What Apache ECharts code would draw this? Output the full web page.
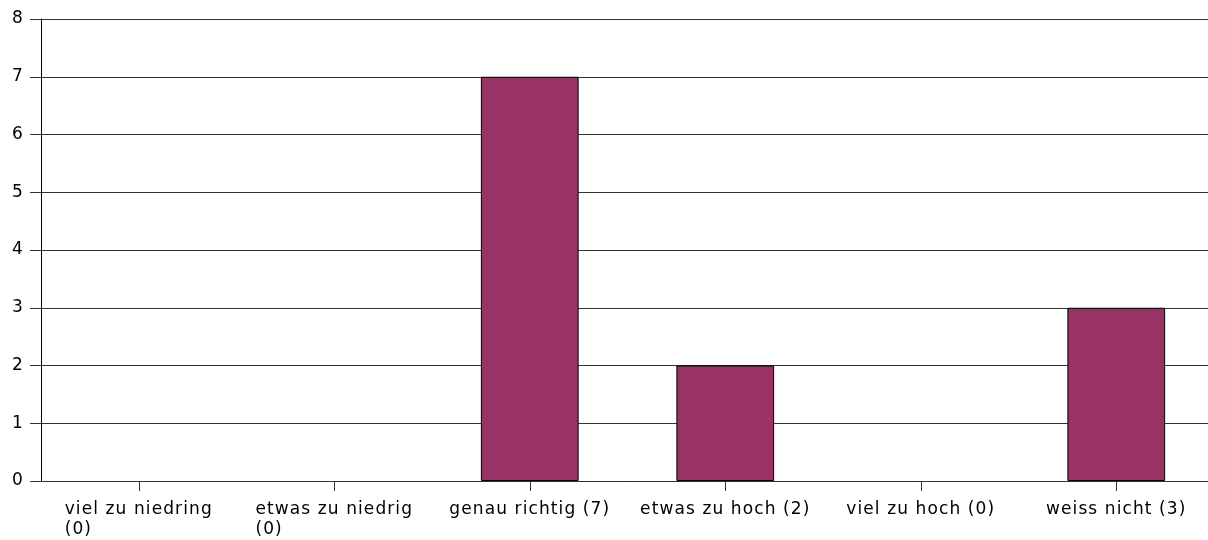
<!DOCTYPE html>
<html>
<head>
<meta charset="utf-8">
<script src="https://cdn.jsdelivr.net/npm/echarts@6/dist/echarts.min.js"></script>
<style>
html,body{margin:0;padding:0;background:#fff;}
#chart{width:1208px;height:540px;}
</style>
</head>
<body>
<div id="chart"></div>
<script>
// Data
const categories = ['viel zu niedring', 'etwas zu niedrig', 'genau richtig', 'etwas zu hoch', 'viel zu hoch', 'weiss nicht'];
const values = [0, 0, 7, 2, 0, 3];
const tickLabels = ['viel zu niedring\n(0)', 'etwas zu niedrig\n(0)', 'genau richtig (7)', 'etwas zu hoch (2)', 'viel zu hoch (0)', 'weiss nicht (3)'];
const yTicks = [0, 1, 2, 3, 4, 5, 6, 7, 8];

// Slight letter spacing to match the reference's text rendering
(function () {
  const LS = '1.1px';
  const proto = CanvasRenderingContext2D.prototype;
  const of = proto.fillText, om = proto.measureText;
  proto.fillText = function () { try { this.letterSpacing = LS; } catch (e) {} return of.apply(this, arguments); };
  proto.measureText = function () { try { this.letterSpacing = LS; } catch (e) {} return om.apply(this, arguments); };
})();

const chart = echarts.init(document.getElementById('chart'), null, { renderer: 'canvas' });
const FONT = 'DejaVu Sans';
chart.setOption({
  animation: false,
  backgroundColor: '#ffffff',
  grid: { left: 41, width: 1173, top: 19, bottom: 59, containLabel: false, outerBoundsMode: 'none' },
  xAxis: {
    type: 'category',
    data: categories,
    boundaryGap: true,
    axisLine: { show: true, lineStyle: { color: '#333', width: 1 } },
    axisTick: { show: true, alignWithLabel: true, length: 10, lineStyle: { color: '#333' } },
    axisLabel: {
      interval: 0,
      margin: 19,
      color: '#000',
      fontFamily: FONT,
      fontSize: 17,
      lineHeight: 20,
      formatter: function (v, i) {
        return tickLabels[i].split('\n').map(function (s) { return '{a|' + s + '}'; }).join('\n');
      },
      rich: { a: { align: 'left', fontFamily: FONT, fontSize: 17, lineHeight: 20, color: '#000' } }
    },
    splitLine: { show: false }
  },
  yAxis: {
    type: 'value',
    min: yTicks[0],
    max: yTicks[yTicks.length - 1],
    interval: 1,
    axisLine: { show: true, lineStyle: { color: '#000', width: 1 } },
    axisTick: { show: true, length: 11, lineStyle: { color: '#333' } },
    axisLabel: { margin: 17, color: '#000', fontFamily: FONT, fontSize: 17 },
    splitLine: { show: true, lineStyle: { color: '#333', width: 1 } }
  },
  series: [{
    type: 'bar',
    data: values.map(function (v) { return { value: v, itemStyle: v === 0 ? { borderWidth: 0, opacity: 0 } : {} }; }),
    barWidth: '50%',
    itemStyle: { color: '#993366', borderColor: '#000', borderWidth: 1 },
    silent: true
  }]
});
</script>
</body>
</html>
